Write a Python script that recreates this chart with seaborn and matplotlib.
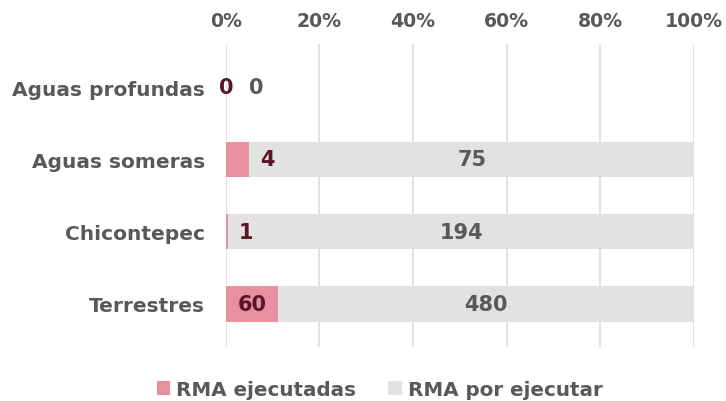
import matplotlib
matplotlib.use("Agg")
import matplotlib.pyplot as plt
from matplotlib.patches import Patch
import seaborn as sns
import pandas as pd

categorias = ["Aguas profundas", "Aguas someras", "Chicontepec", "Terrestres"]
ejecutadas = [0, 4, 1, 60]
por_ejecutar = [0, 75, 194, 480]
ticks_pct = [0, 20, 40, 60, 80, 100]

ROSA = "#E8909F"
GRIS = "#E2E2E2"
TEXTO = "#595959"
GUINDA = "#5A1624"

sns.set_theme(style="white")
plt.rcParams["font.family"] = ["DejaVu Sans"]
plt.rcParams["font.weight"] = "bold"

totales = [e + p for e, p in zip(ejecutadas, por_ejecutar)]
pct_ejec = [100 * e / t if t else 0 for e, t in zip(ejecutadas, totales)]
pct_total = [100 if t else 0 for t in totales]

df = pd.DataFrame({"categoria": categorias, "ejec": pct_ejec, "total": pct_total})

fig = plt.figure(figsize=(7.26, 4.02), dpi=100)
ax = fig.add_axes([0.311, 0.134, 0.645, 0.754])

sns.barplot(data=df, y="categoria", x="total", color=GRIS, width=0.49,
            orient="h", saturation=1, linewidth=0, ax=ax, zorder=2)
sns.barplot(data=df, y="categoria", x="ejec", color=ROSA, width=0.49,
            orient="h", saturation=1, linewidth=0, ax=ax, zorder=3)

ax.set_xlim(0, 100)
ax.set_ylim(3.6, -0.6)
ax.set_xticks(ticks_pct)
ax.set_xticklabels([f"{t}%" for t in ticks_pct])
ax.xaxis.tick_top()
ax.tick_params(axis="x", length=0, pad=10, labelsize=13.6, labelcolor=TEXTO)
ax.tick_params(axis="y", length=0, pad=15, labelsize=14.5, labelcolor=TEXTO)
for lbl in ax.get_xticklabels() + ax.get_yticklabels():
    lbl.set_fontweight("bold")
ax.set_xlabel("")
ax.set_ylabel("")
ax.grid(axis="x", color="#DDDDDD", linewidth=1.2, zorder=0)
ax.grid(axis="y", visible=False)
for s in ax.spines.values():
    s.set_visible(False)

FS = 15
for i, (e, p, pe) in enumerate(zip(ejecutadas, por_ejecutar, pct_ejec)):
    if totales[i] == 0:
        ax.text(0, i, str(e), ha="center", va="center", fontsize=FS,
                fontweight="bold", color=GUINDA, zorder=4)
        ax.text(6.5, i, str(p), ha="center", va="center", fontsize=FS,
                fontweight="bold", color=TEXTO, zorder=4)
        continue
    if pe >= 8:
        ax.text(pe / 2, i, str(e), ha="center", va="center", fontsize=FS,
                fontweight="bold", color=GUINDA, zorder=4)
    else:
        ax.text(pe + 2.2, i, str(e), ha="left", va="center", fontsize=FS,
                fontweight="bold", color=GUINDA, zorder=4)
    ax.text(pe + (100 - pe) / 2, i, str(p), ha="center", va="center",
            fontsize=FS, fontweight="bold", color=TEXTO, zorder=4)

handles = [Patch(facecolor=ROSA, edgecolor="none"),
           Patch(facecolor=GRIS, edgecolor="none")]
fig.legend(handles, ["RMA ejecutadas", "RMA por ejecutar"], loc="center",
           bbox_to_anchor=(0.523, 0.028), ncol=2, frameon=False,
           prop={"weight": "bold", "size": 14.3}, labelcolor=TEXTO,
           handlelength=0.7, handleheight=0.7, handletextpad=0.3,
           columnspacing=1.6)

fig.savefig("out.png", dpi=100)
